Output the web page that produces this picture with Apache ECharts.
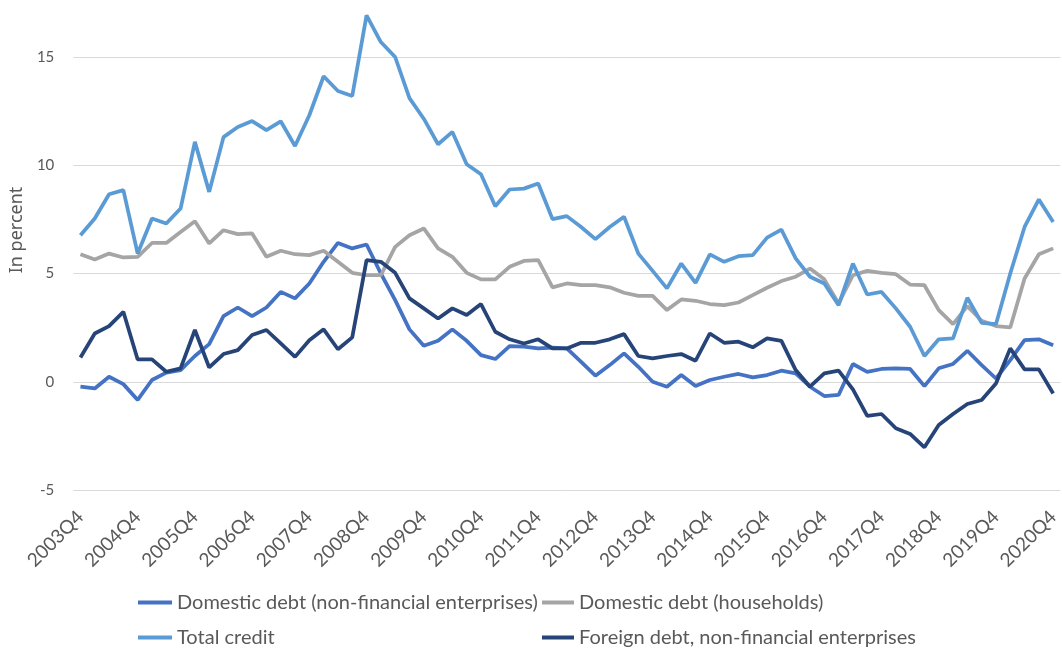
<!DOCTYPE html>
<html>
<head>
<meta charset="utf-8">
<script src="https://cdn.jsdelivr.net/npm/echarts@6/dist/echarts.min.js"></script>
<style>
html,body{margin:0;padding:0;background:#fff;}
#chart{width:1062px;height:649px;}
</style>
</head>
<body>
<div id="chart"></div>
<script>
const categories = [
  "2003Q4",
  "2004Q1","2004Q2","2004Q3","2004Q4",
  "2005Q1","2005Q2","2005Q3","2005Q4",
  "2006Q1","2006Q2","2006Q3","2006Q4",
  "2007Q1","2007Q2","2007Q3","2007Q4",
  "2008Q1","2008Q2","2008Q3","2008Q4",
  "2009Q1","2009Q2","2009Q3","2009Q4",
  "2010Q1","2010Q2","2010Q3","2010Q4",
  "2011Q1","2011Q2","2011Q3","2011Q4",
  "2012Q1","2012Q2","2012Q3","2012Q4",
  "2013Q1","2013Q2","2013Q3","2013Q4",
  "2014Q1","2014Q2","2014Q3","2014Q4",
  "2015Q1","2015Q2","2015Q3","2015Q4",
  "2016Q1","2016Q2","2016Q3","2016Q4",
  "2017Q1","2017Q2","2017Q3","2017Q4",
  "2018Q1","2018Q2","2018Q3","2018Q4",
  "2019Q1","2019Q2","2019Q3","2019Q4",
  "2020Q1","2020Q2","2020Q3","2020Q4"
];

const domesticNFE = [
  -0.23, -0.31, 0.23, -0.11, -0.84, 0.08, 0.42, 0.54, 1.19, 1.74,
  3.03, 3.43, 3.03, 3.43, 4.15, 3.85, 4.54, 5.54, 6.41, 6.16,
  6.34, 5.0, 3.77, 2.42, 1.66, 1.89, 2.42, 1.89, 1.23, 1.05,
  1.65, 1.62, 1.54, 1.58, 1.54, 0.92, 0.28, 0.77, 1.31, 0.69,
  0.0, -0.23, 0.31, -0.2, 0.08, 0.23, 0.36, 0.2, 0.31, 0.51,
  0.39, -0.23, -0.66, -0.61, 0.82, 0.46, 0.59, 0.62, 0.59, -0.2,
  0.62, 0.82, 1.43, 0.77, 0.15, 1.0, 1.92, 1.96, 1.69
];

const households = [
  5.89, 5.65, 5.92, 5.74, 5.77, 6.41, 6.41, 6.92, 7.41, 6.39,
  7.0, 6.82, 6.85, 5.77, 6.05, 5.89, 5.85, 6.05, 5.54, 5.03,
  4.92, 4.92, 6.23, 6.77, 7.08, 6.16, 5.77, 5.03, 4.73, 4.73,
  5.31, 5.58, 5.62, 4.36, 4.54, 4.46, 4.46, 4.36, 4.11, 3.97,
  3.97, 3.31, 3.8, 3.74, 3.59, 3.54, 3.66, 4.0, 4.34, 4.65,
  4.85, 5.23, 4.73, 3.62, 4.92, 5.12, 5.03, 4.97, 4.49, 4.46,
  3.31, 2.66, 3.49, 2.82, 2.57, 2.51, 4.77, 5.89, 6.16
];

const totalCredit = [
  6.77, 7.54, 8.66, 8.85, 5.92, 7.54, 7.31, 8.0, 11.08, 8.77,
  11.3, 11.77, 12.04, 11.62, 12.03, 10.89, 12.31, 14.11, 13.43, 13.2,
  16.92, 15.69, 15.0, 13.1, 12.15, 10.97, 11.54, 10.05, 9.58, 8.11,
  8.88, 8.92, 9.16, 7.51, 7.65, 7.15, 6.59, 7.15, 7.62, 5.92,
  5.12, 4.31, 5.46, 4.57, 5.88, 5.54, 5.8, 5.85, 6.66, 7.03,
  5.7, 4.85, 4.54, 3.54, 5.46, 4.03, 4.15, 3.39, 2.54, 1.19,
  1.96, 2.0, 3.88, 2.72, 2.66, 5.0, 7.15, 8.42, 7.38
];

const foreignNFE = [
  1.12, 2.23, 2.57, 3.23, 1.03, 1.03, 0.46, 0.62, 2.39, 0.66,
  1.28, 1.46, 2.16, 2.39, 1.77, 1.15, 1.92, 2.42, 1.5, 2.05,
  5.62, 5.54, 5.03, 3.85, 3.39, 2.92, 3.39, 3.08, 3.59, 2.31,
  1.96, 1.77, 1.96, 1.54, 1.54, 1.8, 1.8, 1.96, 2.2, 1.19,
  1.08, 1.19, 1.28, 0.97, 2.23, 1.8, 1.85, 1.59, 2.0, 1.89,
  0.54, -0.23, 0.39, 0.51, -0.35, -1.58, -1.49, -2.15, -2.41, -3.03,
  -2.0, -1.49, -1.03, -0.84, -0.08, 1.54, 0.57, 0.57, -0.54
];

const seriesNames = [
  "Domestic debt (non-financial enterprises)",
  "Domestic debt (households)",
  "Total credit",
  "Foreign debt, non-financial enterprises"
];
const seriesColors = ["#4472C4", "#A5A5A5", "#5B9BD5", "#264478"];
const seriesData = [domesticNFE, households, totalCredit, foreignNFE];

const FONT = "Lato, 'Noto Sans', sans-serif";
const chart = echarts.init(document.getElementById('chart'));

function legendAt(left, names, w) {
  return {
    orient: 'vertical',
    left: left,
    top: 592,
    height: 100,
    padding: 0,
    itemWidth: w,
    itemHeight: 4,
    itemGap: 14,
    icon: 'rect',
    data: names,
    textStyle: { color: '#595959', fontSize: 20, fontFamily: FONT, lineHeight: 21 }
  };
}

chart.setOption({
  animation: false,
  backgroundColor: '#ffffff',
  color: seriesColors,
  grid: { left: 73, right: 0, top: 57, bottom: 159 },
  legend: [
    legendAt(138, [seriesNames[0], seriesNames[2]], 34),
    legendAt(542, [seriesNames[1], seriesNames[3]], 32)
  ],
  xAxis: {
    type: 'category',
    data: categories,
    boundaryGap: true,
    axisLine: { show: false },
    axisTick: { show: false },
    axisLabel: {
      interval: 3,
      rotate: 45,
      margin: 24,
      color: '#595959',
      fontSize: 19,
      fontFamily: FONT
    }
  },
  yAxis: {
    type: 'value',
    min: -5,
    max: 15,
    interval: 5,
    name: 'In percent',
    nameLocation: 'middle',
    nameGap: 46,
    nameRotate: 90,
    nameTextStyle: { color: '#595959', fontSize: 18, fontFamily: "'Noto Sans', sans-serif", padding: [0, 0, 0, 87] },
    axisLine: { show: false },
    axisTick: { show: false },
    axisLabel: { color: '#595959', fontSize: 15, fontFamily: FONT, margin: 19 },
    splitLine: { lineStyle: { color: '#D9D9D9', width: 1 } }
  },
  series: seriesNames.map((n, k) => ({
    name: n,
    type: 'line',
    data: seriesData[k],
    symbol: 'none',
    clip: false,
    smooth: false,
    lineStyle: { width: 3.75, color: seriesColors[k] },
    itemStyle: { color: seriesColors[k] },
    z: 2 + k
  }))
});
</script>
</body>
</html>
